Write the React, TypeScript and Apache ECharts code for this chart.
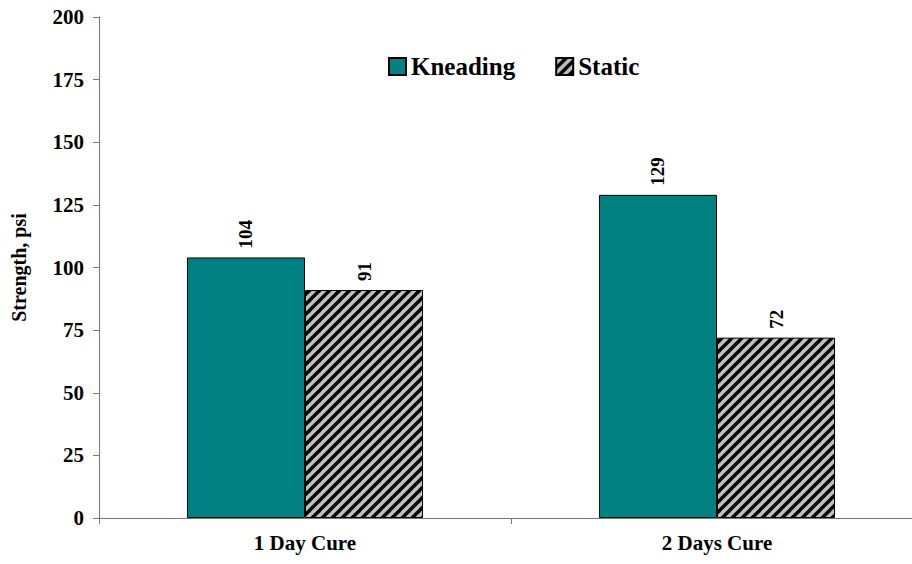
import React, { useEffect, useRef } from "react";
import * as echarts from "echarts";

const categories = ["1 Day Cure", "2 Days Cure"];
const kneading = [104, 129];
const staticVals = [91, 72];
const yTicks = [0, 25, 50, 75, 100, 125, 150, 175, 200];

const FONT = "'Liberation Serif', 'Times New Roman', serif";

function makeHatch(): HTMLCanvasElement {
  const p = 10;
  const c = document.createElement("canvas");
  c.width = p;
  c.height = p;
  const ctx = c.getContext("2d")!;
  ctx.fillStyle = "#c0c0c0";
  ctx.fillRect(0, 0, p, p);
  ctx.strokeStyle = "#000";
  ctx.lineWidth = 3.4;
  for (const x0 of [-p, 0, p]) {
    ctx.beginPath();
    ctx.moveTo(x0 - 2, p + 2);
    ctx.lineTo(x0 + p + 2, -2);
    ctx.stroke();
  }
  return c;
}

export default function App() {
  const ref = useRef<HTMLDivElement>(null);
  useEffect(() => {
    const chart = echarts.init(ref.current!, null, { renderer: "svg" });
    const hatch = { image: makeHatch(), repeat: "repeat" };
    const labelCfg = {
      show: true,
      position: "top",
      rotate: 90,
      align: "left",
      verticalAlign: "middle",
      distance: 9,
      fontFamily: FONT,
      fontWeight: "bold",
      fontSize: 19,
      color: "#000",
    };
    chart.setOption({
      animation: false,
      backgroundColor: "#fff",
      grid: { left: 99, top: 17, width: 824, height: 501, outerBoundsMode: "none", containLabel: false },
      legend: {
        left: 383,
        top: 49,
        icon: "rect",
        itemWidth: 17,
        itemHeight: 17,
        itemGap: 40,
        textStyle: { fontFamily: FONT, fontWeight: "bold", fontSize: 25, color: "#000" },
        data: ["Kneading", "Static"],
      },
      xAxis: {
        type: "category",
        data: categories,
        axisLine: { lineStyle: { color: "#777", width: 1 } },
        axisTick: { show: true, length: 6, alignWithLabel: false, lineStyle: { color: "#777" } },
        axisLabel: { fontFamily: FONT, fontWeight: "bold", fontSize: 21, color: "#000", margin: 14 },
      },
      yAxis: {
        type: "value",
        min: yTicks[0],
        max: yTicks[yTicks.length - 1],
        interval: 25,
        name: "Strength, psi",
        nameLocation: "middle",
        nameGap: 70,
        nameTextStyle: { fontFamily: FONT, fontWeight: "bold", fontSize: 20, color: "#000" },
        axisLine: { show: true, lineStyle: { color: "#777", width: 1 } },
        axisTick: { show: true, length: 6, lineStyle: { color: "#777" } },
        splitLine: { show: false },
        axisLabel: { fontFamily: FONT, fontWeight: "bold", fontSize: 21, color: "#000", margin: 15 },
      },
      series: [
        {
          name: "Kneading",
          type: "bar",
          data: kneading,
          barGap: "0%",
          barCategoryGap: "42.7%",
          itemStyle: { color: "#008080", borderColor: "#000", borderWidth: 1 },
          label: labelCfg,
        },
        {
          name: "Static",
          type: "bar",
          data: staticVals,
          itemStyle: { color: hatch, borderColor: "#000", borderWidth: 1 },
          label: labelCfg,
        },
      ],
    });
    return () => chart.dispose();
  }, []);
  return (
    <div
      ref={ref}
      style={{ position: "fixed", left: 0, top: 0, width: 912, height: 564 }}
    />
  );
}
